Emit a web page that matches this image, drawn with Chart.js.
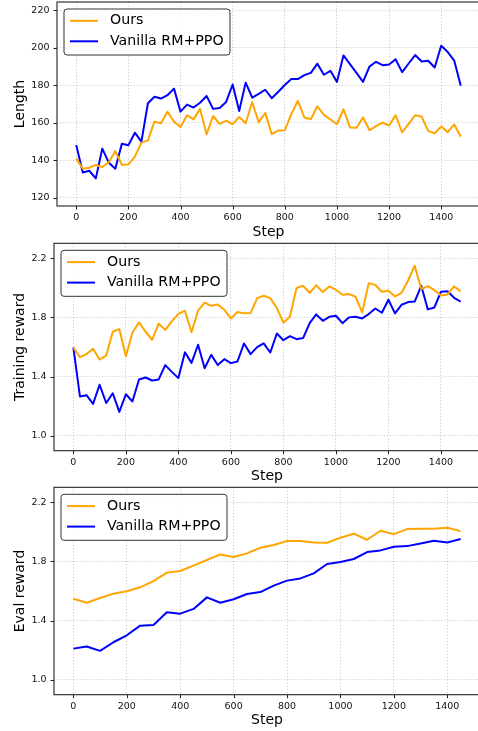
<!DOCTYPE html>
<html><head><meta charset="utf-8">
<script src="https://cdn.jsdelivr.net/npm/chart.js@4"></script>
<style>
html,body{margin:0;padding:0;background:#fff;overflow:hidden;width:478px;height:731px;position:relative;}
.p{position:absolute;left:0;width:490px;}
canvas{display:block;}
</style></head><body>
<div class="p" style="top:0px"><canvas id="c1" width="490" height="241"></canvas></div>
<div class="p" style="top:241px"><canvas id="c2" width="490" height="244"></canvas></div>
<div class="p" style="top:485px"><canvas id="c3" width="490" height="246"></canvas></div>
<script>
// ---------- data ----------
const seriesLabels = ['Ours', 'Vanilla RM+PPO'];
const seriesColors = ['#FFA500', '#0000FF'];

const lengthSteps = [0,25,50,75,100,125,150,175,200,225,250,275,300,325,350,375,400,425,450,475,500,525,550,575,600,625,650,675,700,725,
  750,775,800,825,850,875,900,925,950,975,1000,1025,1050,1075,1100,1125,1150,1175,1200,1225,1250,1275,1300,1325,1350,1375,1400,1425,1450,1475];
const lengthOurs = [141,135.5,136,137.5,136.4,138.9,144.9,137.5,137.8,141.9,149.4,150.6,160.6,159.7,165.9,160.6,157.7,164,161.8,167.4,153.8,163.6,159.4,161.1,159.2,163.1,159.7,171.1,160.2,165.2,
  153.9,155.9,156,164.6,171.7,162.8,161.9,168.8,164.2,161.7,159.2,167.2,157.5,157.3,162.8,156,158.2,160.1,158.5,164,154.8,159.4,164,163.2,155.7,154.3,158,155,159.1,152.5];
const lengthVanilla = [148.1,133.5,134.4,130.3,146.2,138.7,135.5,148.8,148,154.7,149.9,170.4,173.9,172.9,174.7,178.2,165.9,169.7,168.1,170.7,174.3,167.4,167.9,171.1,180.4,166.3,181.4,173.4,175.4,177.6,
  173.1,176.5,180.1,183.3,183.3,185.4,186.6,191.5,185.6,187.7,181.8,195.9,191.3,186.6,181.8,190,192.5,190.7,191.1,193.9,187,191.6,196.1,192.7,193.1,189.5,201.1,197.7,193.1,179.7];

const trainSteps = [0,25,50,75,100,125,150,175,200,225,250,275,300,325,350,375,400,425,450,475,500,525,550,575,600,625,650,675,700,725,
  750,775,800,825,850,875,900,925,950,975,1000,1025,1050,1075,1100,1125,1150,1175,1200,1225,1250,1275,1300,1325,1350,1375,1400,1425,1450,1475];
const trainOurs = [1.597,1.532,1.552,1.588,1.516,1.541,1.703,1.721,1.538,1.698,1.766,1.703,1.649,1.757,1.716,1.773,1.824,1.845,1.700,1.845,1.899,1.878,1.887,1.851,1.793,1.836,1.827,1.829,1.930,1.946,
  1.930,1.863,1.764,1.806,1.998,2.013,1.966,2.016,1.971,2.009,1.986,1.953,1.957,1.939,1.833,2.031,2.018,1.973,1.980,1.941,1.966,2.049,2.149,1.991,2.011,1.984,1.948,1.955,2.009,1.975];
const trainVanilla = [1.597,1.266,1.275,1.216,1.345,1.222,1.288,1.162,1.281,1.232,1.381,1.394,1.374,1.381,1.478,1.432,1.390,1.565,1.493,1.615,1.457,1.547,1.478,1.518,1.491,1.502,1.624,1.552,1.599,1.625,
  1.563,1.691,1.646,1.673,1.653,1.660,1.761,1.820,1.777,1.804,1.811,1.761,1.800,1.804,1.793,1.822,1.860,1.831,1.919,1.827,1.885,1.903,1.907,2.013,1.854,1.867,1.973,1.977,1.932,1.907];

const evalSteps = [0,50,100,150,200,250,300,350,400,450,500,550,600,650,700,750,800,850,900,950,1000,1050,1100,1150,1200,1250,1300,1350,1400,1450];
const evalOurs = [1.548,1.521,1.553,1.582,1.598,1.625,1.667,1.724,1.735,1.771,1.809,1.847,1.829,1.854,1.892,1.910,1.937,1.937,1.928,1.926,1.960,1.987,1.946,2.007,1.984,2.018,2.020,2.020,2.027,2.004];
const evalVanilla = [1.211,1.225,1.196,1.254,1.301,1.366,1.370,1.456,1.447,1.479,1.557,1.521,1.544,1.580,1.593,1.636,1.670,1.685,1.719,1.782,1.796,1.816,1.863,1.874,1.899,1.903,1.921,1.939,1.928,1.951];

const stepTicks = [0,200,400,600,800,1000,1200,1400];
const lengthTicks = [120,140,160,180,200,220];
const rewardTicks = [1.0,1.4,1.8,2.2];

// ---------- drawing ----------
const FONT = '"DejaVu Sans", sans-serif';

const framePlugin = {
  id: 'frame',
  afterDraw(chart) {
    const ctx = chart.ctx, a = chart.chartArea;
    const xs = chart.scales.x, ys = chart.scales.y;
    ctx.save();
    ctx.setLineDash([]);
    ctx.strokeStyle = '#222';
    ctx.lineWidth = 1.1;
    ctx.strokeRect(a.left, a.top, a.right - a.left, a.bottom - a.top);
    ctx.lineWidth = 1;
    ctx.beginPath();
    xs.ticks.forEach(t => { const px = Math.round(xs.getPixelForValue(t.value)) + 0.5; ctx.moveTo(px, a.bottom); ctx.lineTo(px, a.bottom + 3.5); });
    ys.ticks.forEach(t => { const py = Math.round(ys.getPixelForValue(t.value)) + 0.5; ctx.moveTo(a.left, py); ctx.lineTo(a.left - 3.5, py); });
    ctx.stroke();
    // legend
    const bx = a.left + 7, by = a.top + 7, bw = 166, bh = 46, r = 3;
    ctx.beginPath();
    ctx.moveTo(bx + r, by); ctx.lineTo(bx + bw - r, by); ctx.arcTo(bx + bw, by, bx + bw, by + r, r);
    ctx.lineTo(bx + bw, by + bh - r); ctx.arcTo(bx + bw, by + bh, bx + bw - r, by + bh, r);
    ctx.lineTo(bx + r, by + bh); ctx.arcTo(bx, by + bh, bx, by + bh - r, r);
    ctx.lineTo(bx, by + r); ctx.arcTo(bx, by, bx + r, by, r); ctx.closePath();
    ctx.fillStyle = 'rgba(255,255,255,0.85)'; ctx.fill();
    ctx.strokeStyle = '#333'; ctx.lineWidth = 1; ctx.stroke();
    chart.data.datasets.forEach((ds, i) => {
      const y = by + 11.8 + i * 20.5;
      ctx.beginPath(); ctx.strokeStyle = ds.borderColor; ctx.lineWidth = 2;
      ctx.moveTo(bx + 6, y); ctx.lineTo(bx + 34, y); ctx.stroke();
      ctx.fillStyle = '#000'; ctx.font = '14.2px ' + FONT; ctx.textBaseline = 'middle'; ctx.textAlign = 'left';
      ctx.fillText(ds.label, bx + 46, y);
    });
    ctx.restore();
  }
};

function makeChart(id, o) {
  const mk = (vals) => o.steps.map((s, i) => ({ x: s, y: vals[i] }));
  const grid = { color: 'rgba(0,0,0,0.25)', lineWidth: 0.8, drawTicks: false };
  const border = { display: false, dash: [1.2, 2], dashOffset: 0 };
  new Chart(document.getElementById(id), {
    type: 'line',
    data: {
      datasets: [
        { label: seriesLabels[0], data: mk(o.ours), borderColor: seriesColors[0], backgroundColor: seriesColors[0], borderWidth: 2, pointRadius: 0, tension: 0, borderJoinStyle: 'round' },
        { label: seriesLabels[1], data: mk(o.vanilla), borderColor: seriesColors[1], backgroundColor: seriesColors[1], borderWidth: 2, pointRadius: 0, tension: 0, borderJoinStyle: 'round' }
      ]
    },
    options: {
      responsive: false, animation: false, devicePixelRatio: 1,
      layout: { padding: { top: o.top, right: 10, left: 0, bottom: 0 } },
      plugins: { legend: { display: false }, tooltip: { enabled: false } },
      scales: {
        x: {
          type: 'linear', min: o.xMin, max: o.xMax,
          grid: grid, border: border,
          afterBuildTicks: s => { s.ticks = stepTicks.map(v => ({ value: v })); },
          afterFit: s => { s.height = o.H - o.bottom; s.paddingLeft = 0; s.paddingRight = 0; },
          ticks: { autoSkip: false, maxRotation: 0, padding: 6, color: '#111', font: { family: FONT, size: 9.5, lineHeight: 1.2 }, callback: v => String(v) },
          title: { display: true, text: 'Step', color: '#000', font: { family: FONT, size: 14, lineHeight: 1.2 }, padding: { top: 0, bottom: o.tpad } }
        },
        y: {
          type: 'linear', min: o.yMin, max: o.yMax,
          grid: grid, border: border,
          afterBuildTicks: s => { s.ticks = o.yTicks.map(v => ({ value: v })); },
          afterFit: s => { s.width = o.left; s.paddingTop = 0; s.paddingBottom = 0; },
          ticks: { autoSkip: false, padding: 7.5, color: '#111', font: { family: FONT, size: 9.5, lineHeight: 1.2 }, callback: o.fmt },
          title: { display: true, text: o.yLabel, color: '#000', font: { family: FONT, size: 14, lineHeight: 1.2 }, padding: { top: 12, bottom: 0 } }
        }
      }
    },
    plugins: [framePlugin]
  });
}

makeChart('c1', { steps: lengthSteps, ours: lengthOurs, vanilla: lengthVanilla, yLabel: 'Length',
  xMin: -73.75, xMax: 1548.75, yMin: 115.6, yMax: 224.4, yTicks: lengthTicks, fmt: v => String(v),
  H: 241, top: 2, bottom: 206, left: 57, tpad: 0.6 });
makeChart('c2', { steps: trainSteps, ours: trainOurs, vanilla: trainVanilla, yLabel: 'Training reward',
  xMin: -73.75, xMax: 1548.75, yMin: 0.9, yMax: 2.3, yTicks: rewardTicks, fmt: v => Number(v).toFixed(1),
  H: 244, top: 2.3, bottom: 209.7, left: 54, tpad: 0.6 });
makeChart('c3', { steps: evalSteps, ours: evalOurs, vanilla: evalVanilla, yLabel: 'Eval reward',
  xMin: -72.5, xMax: 1522.5, yMin: 0.9, yMax: 2.3, yTicks: rewardTicks, fmt: v => Number(v).toFixed(1),
  H: 246, top: 2.3, bottom: 209.7, left: 54, tpad: 2.3 });
</script>
</body></html>
